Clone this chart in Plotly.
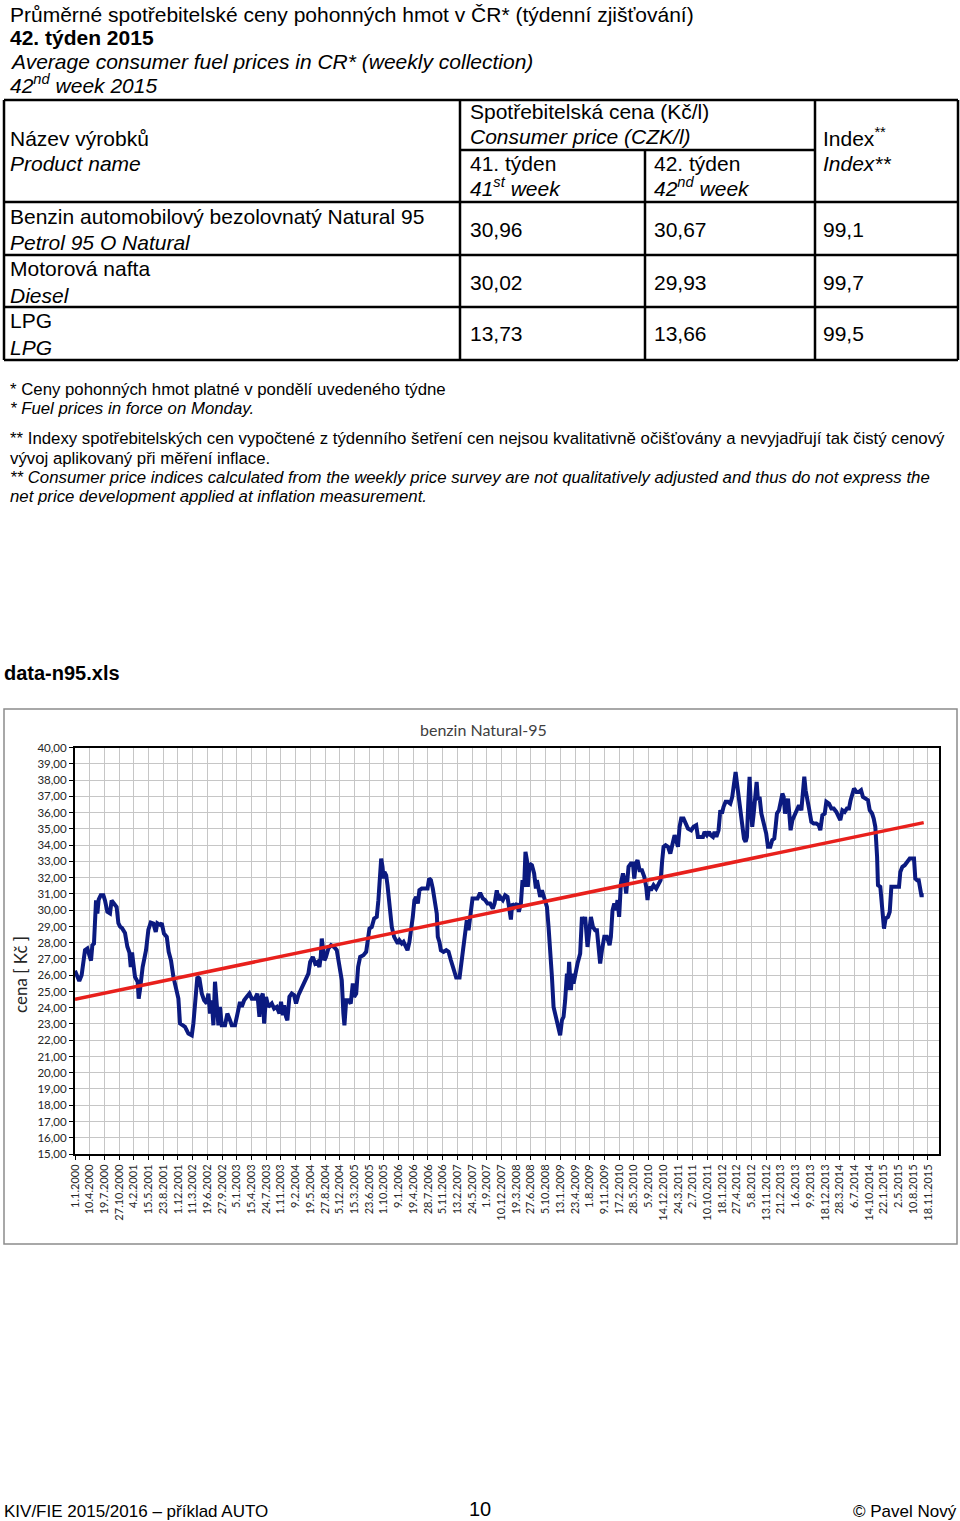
import plotly.graph_objects as go
import pandas as pd

W, H = 960, 1521

# ---------------- data ----------------
products_cz = ["Benzin automobilový bezolovnatý Natural 95", "Motorová nafta", "LPG"]
products_en = ["Petrol 95 O Natural", "Diesel", "LPG"]
price_w41 = ["30,96", "30,02", "13,73"]
price_w42 = ["30,67", "29,93", "13,66"]
index_vals = ["99,1", "99,7", "99,5"]

# days since 1.1.2000 (weekly survey)
days = [
    0, 16, 29, 45, 68, 84, 98, 109, 118, 129,
    143, 152, 161, 175, 193, 204, 220, 238, 249, 265,
    283, 295, 306, 320, 340, 356, 370, 379, 388, 397,
    408, 426, 433, 442, 460, 483, 499, 515, 533, 549,
    560, 578, 590, 605, 624, 637, 653, 669, 687, 703,
    714, 732, 748, 771, 794, 805, 823, 832, 846, 862,
    878, 896, 907, 918, 930, 941, 952, 964, 975, 986,
    998, 1020, 1036, 1050, 1066, 1088, 1104, 1122, 1134, 1150,
    1168, 1186, 1202, 1224, 1240, 1254, 1263, 1277, 1286, 1299,
    1315, 1338, 1354, 1372, 1390, 1401, 1413, 1422, 1435, 1444,
    1458, 1474, 1490, 1503, 1519, 1535, 1553, 1571, 1587, 1599,
    1617, 1633, 1649, 1662, 1671, 1678, 1685, 1696, 1707, 1723,
    1741, 1762, 1780, 1791, 1803, 1814, 1825, 1832, 1844, 1859,
    1875, 1889, 1898, 1912, 1925, 1939, 1961, 1980,
    2002, 2018, 2034, 2052, 2063, 2075, 2082, 2091, 2098, 2104,
    2116, 2125, 2138, 2154, 2170, 2184, 2195, 2206, 2222, 2234,
    2249, 2261, 2274, 2286, 2297, 2308, 2320, 2331, 2342, 2358,
    2381, 2397, 2408, 2420, 2433, 2447, 2460, 2467, 2478, 2488,
    2506, 2524, 2540, 2556, 2574, 2592, 2615, 2630, 2642, 2653,
    2664, 2676, 2687, 2703, 2721, 2737, 2755, 2773, 2789, 2805,
    2823, 2841, 2853, 2868, 2880, 2891, 2909, 2925, 2941, 2955,
    2964, 2973, 2986, 3005, 3018, 3032, 3043, 3054, 3063, 3073,
    3079, 3091, 3107, 3122, 3134, 3141, 3152, 3163, 3175, 3186,
    3197, 3209, 3220, 3231, 3243, 3254, 3265, 3277, 3288, 3299,
    3311, 3322, 3333, 3345, 3351, 3360, 3372, 3381, 3390, 3401,
    3417, 3435, 3447, 3458, 3469, 3485, 3497, 3508, 3522, 3537,
    3549, 3560, 3571, 3583, 3599, 3617, 3635, 3644, 3655, 3667,
    3678, 3689, 3700, 3712, 3726, 3737, 3748, 3764, 3780, 3794,
    3803, 3814, 3825, 3839, 3855, 3871, 3884, 3893, 3902, 3916,
    3934, 3952,
    3971, 3982, 3993, 4002, 4016, 4032, 4048, 4061, 4077, 4088,
    4100, 4111, 4122, 4138, 4152, 4168, 4190, 4206, 4224, 4236,
    4252, 4270, 4281, 4297, 4311, 4322, 4338, 4349, 4361, 4376,
    4388, 4399, 4410, 4424, 4440, 4456, 4469, 4481, 4492, 4503,
    4515, 4526, 4537, 4549, 4560, 4569, 4578, 4587, 4596, 4605,
    4615, 4626, 4635, 4644, 4655, 4667, 4678, 4689, 4700, 4712,
    4728, 4741, 4755, 4764, 4773, 4787, 4798, 4810, 4819, 4828,
    4837, 4848, 4857, 4866, 4878, 4893, 4909, 4923, 4939, 4950,
    4959, 4968, 4980, 4991, 5007, 5023, 5041, 5057, 5068, 5082,
    5098, 5109, 5127, 5143, 5159, 5177, 5193, 5204, 5218, 5234,
    5249, 5263, 5274, 5286, 5297, 5313, 5331, 5345, 5358, 5376,
    5392, 5404, 5420, 5431, 5442, 5454, 5460, 5476, 5490, 5501,
    5512, 5528, 5540, 5551, 5567, 5585, 5603, 5612, 5626, 5642,
    5658, 5676, 5694, 5705, 5714, 5726, 5737, 5744, 5755, 5771,
]

price = [
    26.27, 25.90, 25.65, 26.00, 27.54, 27.64, 27.20, 26.90, 27.85, 27.95,
    30.60, 29.80, 30.65, 30.92, 30.92, 30.60, 29.90, 29.80, 30.60, 30.40,
    30.20, 29.20, 29.00, 28.90, 28.60, 27.75, 27.40, 26.50, 27.40, 26.70,
    25.90, 25.60, 24.56, 25.10, 26.50, 27.54, 28.80, 29.24, 29.18, 28.67,
    29.20, 29.10, 29.20, 28.56, 28.36, 27.44, 26.90, 25.90, 25.18, 24.56,
    23.03, 22.92, 22.82, 22.41, 22.30, 23.03, 24.87, 25.90, 25.80, 24.87,
    24.46, 24.26, 24.87, 23.64, 24.46, 22.92, 25.60, 24.46, 22.92, 24.05,
    22.92, 22.92, 23.64, 23.33, 22.92, 22.92, 23.64, 24.36, 24.05, 24.46,
    24.67, 24.87, 24.56, 24.56, 24.87, 23.44, 24.56, 24.87, 23.03, 24.67,
    24.05, 24.26, 23.95, 24.05, 23.64, 24.36, 23.54, 24.15, 23.44, 23.23,
    24.67, 24.87, 24.77, 24.26, 24.77, 25.08, 25.49, 25.70, 26.10, 26.82,
    27.13, 26.72, 26.82, 26.51, 27.13, 28.26, 27.64, 26.92, 27.13, 27.64,
    27.85, 27.74, 27.54, 26.92, 26.41, 25.70, 23.64, 22.92, 24.46, 24.46,
    24.26, 25.49, 24.67, 24.87, 26.51, 27.13, 27.23, 27.44,
    28.87, 28.97, 29.49, 29.59, 30.62, 32.26, 33.18, 32.67, 31.95, 32.36,
    32.15, 31.54, 30.41, 28.97, 28.36, 28.05, 27.95, 28.15, 27.95, 28.05,
    27.74, 27.54, 28.05, 28.77, 29.59, 30.62, 30.82, 30.41, 31.23, 31.33,
    31.33, 31.33, 31.95, 31.85, 31.33, 30.41, 29.79, 28.36, 28.05, 27.54,
    27.44, 27.54, 27.44, 26.92, 26.31, 25.86, 25.86, 26.92, 27.54, 28.77,
    29.38, 28.77, 29.59, 30.72, 30.72, 30.72, 31.07, 30.72, 30.62, 30.41,
    30.41, 30.10, 30.41, 31.23, 30.62, 30.82, 30.62, 30.92, 30.82, 30.00,
    29.43, 30.41, 30.21, 30.41, 29.90, 30.41, 31.85, 31.44, 33.59, 33.08,
    31.44, 32.87, 32.77, 32.26, 31.33, 31.85, 31.23, 30.82, 31.23, 30.82,
    30.62, 30.21, 28.97, 26.92, 25.90, 24.05, 23.64, 23.03, 22.82, 22.31,
    23.23, 23.44, 24.46, 26.10, 25.08, 26.82, 25.08, 26.10, 25.49, 26.10,
    26.72, 27.33, 29.59, 29.18, 29.59, 27.74, 28.77, 29.59, 28.97, 28.77,
    28.77, 27.74, 26.72, 27.54, 28.36, 28.36, 27.85, 28.36, 30.00, 30.41,
    30.00, 30.62, 29.59, 31.64, 32.26, 31.85, 31.03, 32.67, 32.87, 32.87,
    31.95, 32.87, 33.08, 32.46, 32.46, 32.05, 31.44, 30.62, 31.44, 31.23,
    31.54, 31.33,
    31.74, 31.85, 33.08, 33.90, 34.00, 33.90, 33.49, 33.90, 34.62, 34.31,
    33.90, 35.13, 35.64, 35.64, 35.33, 35.03, 34.92, 35.13, 35.23, 34.51,
    34.51, 34.51, 34.82, 34.62, 34.82, 34.62, 34.51, 34.82, 34.51, 34.92,
    36.15, 35.95, 36.36, 36.67, 36.67, 36.56, 36.97, 37.79, 38.51, 37.69,
    36.77, 35.74, 34.92, 34.41, 34.21, 34.51, 36.56, 38.21, 36.36, 35.13,
    35.95, 37.38, 37.90, 36.77, 36.97, 35.95, 35.54, 35.13, 34.72, 33.90,
    33.90, 34.31, 34.41, 35.13, 35.95, 36.15, 36.56, 37.18, 36.97, 35.95,
    36.36, 36.87, 35.95, 34.92, 35.54, 35.85, 36.05, 36.46, 36.15, 37.38,
    38.21, 37.38, 36.56, 36.26, 35.44, 35.33, 35.33, 35.23, 34.92, 35.85,
    35.95, 36.67, 36.56, 36.26, 36.26, 36.05, 35.74, 35.54, 36.15, 36.05,
    36.26, 36.26, 36.77, 37.28, 37.49, 37.28, 37.28, 37.38, 36.97, 36.87,
    36.77, 36.15, 35.95, 35.64, 35.13, 33.28, 31.54, 31.44, 29.79, 28.87,
    29.49, 29.59, 29.90, 31.44, 31.44, 31.44, 31.44, 32.36, 32.67, 32.77,
    32.97, 33.18, 33.18, 33.18, 31.95, 31.85, 31.85, 31.33, 30.92, 30.92,
]

# linear trend line endpoints
trend_days = [0, 5771]
trend_price = [24.52, 35.39]

tick_labels = [
    "1.1.2000", "10.4.2000", "19.7.2000", "27.10.2000", "4.2.2001", "15.5.2001",
    "23.8.2001", "1.12.2001", "11.3.2002", "19.6.2002", "27.9.2002", "5.1.2003",
    "15.4.2003", "24.7.2003", "1.11.2003", "9.2.2004", "19.5.2004", "27.8.2004",
    "5.12.2004", "15.3.2005", "23.6.2005", "1.10.2005", "9.1.2006", "19.4.2006",
    "28.7.2006", "5.11.2006", "13.2.2007", "24.5.2007", "1.9.2007", "10.12.2007",
    "19.3.2008", "27.6.2008", "5.10.2008", "13.1.2009", "23.4.2009", "1.8.2009",
    "9.11.2009", "17.2.2010", "28.5.2010", "5.9.2010", "14.12.2010", "24.3.2011",
    "2.7.2011", "10.10.2011", "18.1.2012", "27.4.2012", "5.8.2012", "13.11.2012",
    "21.2.2013", "1.6.2013", "9.9.2013", "18.12.2013", "28.3.2014", "6.7.2014",
    "14.10.2014", "22.1.2015", "2.5.2015", "10.8.2015", "18.11.2015",
]

start = pd.Timestamp("2000-01-01")
dates = start + pd.to_timedelta(days, unit="D")
trend_dates = start + pd.to_timedelta(trend_days, unit="D")
tickvals = pd.to_datetime(tick_labels, format="%d.%m.%Y")
x_range = [start, start + pd.Timedelta(days=5875)]

# ---------------- helpers (layout only) ----------------
def px(x):
    return x / W

def py(y):
    return 1 - y / H

ARIAL = "Liberation Sans, Arial, sans-serif"
annotations = []

def txt(x, y, s, size=21, anchor="left", family=ARIAL, color="black", angle=0):
    annotations.append(dict(
        x=px(x), y=py(y), xref="paper", yref="paper", text=s, showarrow=False,
        xanchor=anchor, yanchor="middle", textangle=angle,
        font=dict(family=family, size=size, color=color),
    ))

shapes = []

def hline(x0, x1, y, w=2.5, color="black"):
    shapes.append(dict(type="line", xref="paper", yref="paper",
                       x0=px(x0), x1=px(x1), y0=py(y), y1=py(y),
                       line=dict(color=color, width=w)))

def vline(x, y0, y1, w=2.5, color="black"):
    shapes.append(dict(type="line", xref="paper", yref="paper",
                       x0=px(x), x1=px(x), y0=py(y0), y1=py(y1),
                       line=dict(color=color, width=w)))

# ---------------- header text ----------------
txt(8, 14, "Průměrné spotřebitelské ceny pohonných hmot v ČR* (týdenní zjišťování)")
txt(8, 38, "<b>42. týden 2015</b>")
txt(8, 62, "<i>Average consumer fuel prices in CR* (weekly collection)</i>")
txt(8, 84, "<i>42<sup>nd</sup> week 2015</i>")

# ---------------- table ----------------
tx = [4, 460, 645, 815, 958]
ty = [100, 202, 255, 307, 360]
for y in ty:
    hline(tx[0], tx[-1], y)
hline(tx[1], tx[3], 150)
for x in [tx[0], tx[1], tx[3], tx[4]]:
    vline(x, ty[0], ty[-1])
vline(tx[2], 150, ty[-1])   # week columns split only below the merged header

txt(8, 138, "Název výrobků")
txt(8, 163, "<i>Product name</i>")
txt(468, 112, "Spotřebitelská cena (Kč/l)")
txt(468, 137, "<i>Consumer price (CZK/l)</i>")
txt(468, 163, "41. týden")
txt(468, 187, "<i>41<sup>st</sup> week</i>")
txt(652, 163, "42. týden")
txt(652, 187, "<i>42<sup>nd</sup> week</i>")
txt(821, 137, "Index<sup>**</sup>")
txt(821, 163, "<i>Index**</i>")

row_mid = [229, 282, 334]
for i in range(3):
    txt(8, row_mid[i] - 13, products_cz[i])
    txt(8, row_mid[i] + 13, "<i>" + products_en[i] + "</i>")
    txt(468, row_mid[i], price_w41[i])
    txt(652, row_mid[i], price_w42[i])
    txt(821, row_mid[i], index_vals[i])

# ---------------- footnotes ----------------
FN = 16.8
txt(8, 390, "* Ceny pohonných hmot platné v pondělí uvedeného týdne", size=FN)
txt(8, 409, "<i>* Fuel prices in force on Monday.</i>", size=FN)
txt(8, 438, "** Indexy spotřebitelských cen vypočtené z týdenního šetření cen nejsou kvalitativně očišťovány a nevyjadřují tak čistý cenový", size=FN)
txt(8, 458, "vývoj aplikovaný při měření inflace.", size=FN)
txt(8, 477, "<i>** Consumer price indices calculated from the weekly price survey are not qualitatively adjusted and thus do not express the</i>", size=FN)
txt(8, 496, "<i>net price development applied at inflation measurement.</i>", size=FN)

txt(2, 673, "<b>data-n95.xls</b>", size=20)

# ---------------- chart frame & labels ----------------
shapes.append(dict(type="rect", xref="paper", yref="paper",
                   x0=px(4), x1=px(957), y0=py(1244), y1=py(709),
                   line=dict(color="#8c8c8c", width=1.5), layer="below"))
txt(483, 729, "benzin Natural-95", size=16, anchor="center", family="Lato, sans-serif", color="#404040")
txt(20, 975, "cena [ Kč ]", size=17, anchor="center", family="Lato, sans-serif", color="#262626", angle=-90)

# ---------------- footer ----------------
txt(2, 1511, "KIV/FIE 2015/2016 – příklad AUTO", size=17)
txt(480, 1509, "10", size=20, anchor="center")
txt(959, 1511, "© Pavel Nový", size=17, anchor="right")

# ---------------- traces ----------------
fig = go.Figure()
fig.add_trace(go.Scatter(x=dates, y=price, mode="lines",
                         line=dict(color="#0b1a80", width=4), showlegend=False))
fig.add_trace(go.Scatter(x=trend_dates, y=trend_price, mode="lines",
                         line=dict(color="#e8201c", width=3.5), showlegend=False))

fig.update_layout(
    width=W, height=H, template="none",
    margin=dict(l=0, r=0, t=0, b=0),
    paper_bgcolor="white", plot_bgcolor="white",
    separators=", ",
    showlegend=False,
    annotations=annotations,
    shapes=shapes,
    xaxis=dict(
        domain=[px(75), px(939)], type="date", range=x_range,
        tickmode="array", tickvals=tickvals, ticktext=tick_labels,
        tickangle=-90, tickfont=dict(family="Lato, sans-serif", size=11, color="#262626"),
        showgrid=True, gridcolor="#c6c6c6", gridwidth=1,
        showline=True, linecolor="black", linewidth=2, mirror=True,
        ticks="outside", ticklen=4, tickcolor="black", zeroline=False,
    ),
    yaxis=dict(
        domain=[py(1154), py(747.7)], range=[15, 40], dtick=1, tickformat=".2f",
        tickfont=dict(family="Lato, sans-serif", size=11.5, color="#262626"),
        showgrid=True, gridcolor="#c6c6c6", gridwidth=1,
        showline=True, linecolor="black", linewidth=2, mirror=True,
        ticks="outside", ticklen=4, tickcolor="black", zeroline=False,
    ),
)

fig.write_html("out.html")
